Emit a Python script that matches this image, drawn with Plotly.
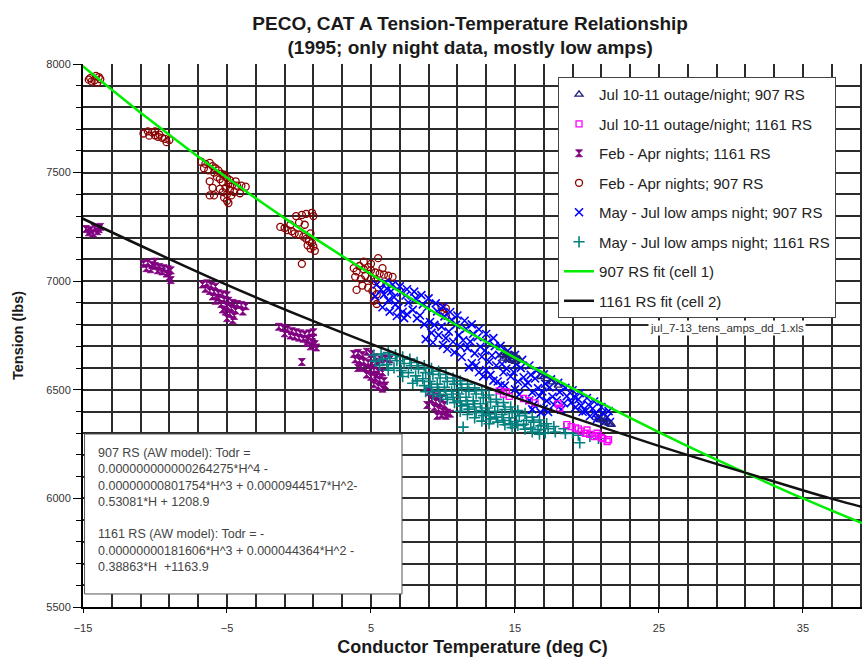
import plotly.graph_objects as go

# ---------------- data ----------------
# Feb - Apr nights; 907 RS
feb907_temp = [-14.5, -14.2, -13.9, -14.0, -14.4, -13.8, -14.1, -14.6,
               -10.8, -10.5, -10.2, -10.0, -9.8, -9.5, -9.3, -9.0, -10.4, -9.7, -9.2, -10.0,
               -6.8, -6.5, -6.2, -6.0, -5.8, -6.6, -6.3, -5.9, -5.6, -5.4, -5.2, -5.7, -5.5, -5.0,
               -4.8, -5.3, -4.9, -4.6, -4.3, -4.0, -3.7, -5.1, -4.8, -5.5, -6.0, -5.3, -5.0, -4.7,
               -5.2, -5.0, -4.9, -4.5, -4.4, -6.2, -6.2, -5.9, -4.1,
               -1.3, -1.0, -0.8, -0.5, -0.3, 0.0, 0.3, 0.5, 0.7, 0.9, 1.0, 0.8, 0.6, 1.1, -0.2, 0.2,
               0.5, 0.9, 1.0, 0.0, 0.4, 0.2, -0.6, 0.8,
               3.8, 4.0, 4.2, 4.5, 4.8, 5.0, 5.3, 5.6, 5.9, 6.2, 6.5, 3.9, 4.3, 4.6, 5.0, 5.3, 5.6,
               4.4, 4.8, 5.1, 5.4, 5.2, 5.4, 4.0, 5.5, 5.0, 4.5, 5.8,
               9.9, 10.2, 10.0, 10.2]
feb907_tension = [7935, 7925, 7940, 7915, 7920, 7930, 7945, 7928,
                  7680, 7690, 7685, 7672, 7665, 7660, 7655, 7650, 7670, 7675, 7640, 7690,
                  7550, 7540, 7545, 7530, 7520, 7520, 7510, 7500, 7510, 7495, 7490, 7480, 7470, 7475,
                  7465, 7455, 7450, 7445, 7440, 7440, 7435, 7430, 7420, 7425, 7430, 7410, 7400, 7395,
                  7385, 7370, 7360, 7410, 7460, 7460, 7395, 7395, 7405,
                  7250, 7245, 7235, 7230, 7220, 7215, 7205, 7195, 7185, 7175, 7160, 7150, 7165, 7140, 7300, 7305,
                  7310, 7315, 7300, 7270, 7260, 7080, 7260, 7220,
                  7060, 7045, 7070, 7055, 7065, 7050, 7040, 7035, 7030, 7025, 7020, 7020, 7010, 7025, 7010, 7000, 6990,
                  6980, 6970, 6955, 6940, 6910, 6895, 6960, 7106, 7080, 7090, 7060,
                  6880, 6875, 6855, 6840]

# Feb - Apr nights; 1161 RS
feb1161_temp = [-14.8, -14.5, -14.2, -13.9, -14.6, -14.0, -13.8, -14.3,
                -10.8, -10.5, -10.2, -10.0, -9.7, -9.4, -9.1, -8.9, -10.6, -10.3, -9.8, -9.5, -9.2, -9.0, -8.9, -10.0,
                -6.7, -6.4, -6.1, -5.8, -6.5, -6.2, -5.9, -5.6, -5.3, -5.0, -5.6, -5.2, -4.9, -4.6, -4.3, -4.0,
                -3.7, -5.4, -5.0, -4.7, -4.4, -5.1, -4.8, -4.5, -5.0, -4.6, -3.9, -5.8, -6.0, -5.3,
                -1.4, -1.1, -0.8, -0.5, -0.2, 0.1, 0.4, 0.7, 1.0, -1.0, -0.6, -0.3, 0.0, 0.3, 0.6, 0.9, 1.1,
                1.2, 0.8, 0.5, 1.0, 0.2,
                3.8, 4.1, 4.4, 4.7, 5.0, 5.3, 3.9, 4.2, 4.5, 4.8, 5.1, 5.4, 5.7, 6.0, 6.3, 4.3, 4.6, 4.9,
                5.2, 5.5, 5.8, 4.7, 5.0, 5.3, 5.6, 5.9, 5.2, 5.5, 5.8, 6.0, 5.4, 4.1,
                9.0, 9.3, 9.6, 9.9, 9.2, 9.5, 9.8, 10.1, 9.4, 9.7, 10.0, 10.3, 10.5, 9.9, 10.2, 9.6, 8.9]
feb1161_tension = [7240, 7235, 7245, 7240, 7225, 7230, 7250, 7220,
                   7080, 7085, 7075, 7070, 7065, 7060, 7055, 7050, 7060, 7055, 7050, 7045, 7035, 7020, 7005, 7090,
                   6985, 6990, 6980, 6975, 6965, 6955, 6950, 6945, 6940, 6935, 6925, 6915, 6910, 6900, 6895, 6890,
                   6885, 6895, 6885, 6875, 6865, 6860, 6850, 6840, 6830, 6820, 6860, 6910, 6930, 6870,
                   6790, 6785, 6780, 6770, 6765, 6760, 6755, 6760, 6765, 6760, 6750, 6745, 6740, 6735, 6730, 6720, 6710,
                   6695, 6700, 6715, 6740, 6628,
                   6665, 6670, 6660, 6675, 6665, 6650, 6640, 6635, 6630, 6625, 6620, 6630, 6640, 6645, 6640, 6605, 6600, 6595,
                   6590, 6585, 6580, 6570, 6560, 6555, 6545, 6540, 6525, 6515, 6505, 6520, 6570, 6600,
                   6490, 6480, 6470, 6460, 6455, 6445, 6440, 6430, 6420, 6410, 6400, 6395, 6390, 6385, 6380, 6380, 6430]

# May - Jul low amps night; 1161 RS
may1161_temp = [5.2, 5.3, 5.7, 5.8, 5.6, 6.2, 6.3, 6.1, 6.2, 6.7, 6.8, 6.6,
                7.2, 7.3, 7.1, 7.2, 7.7, 7.8, 7.6, 7.9, 8.2, 8.3, 8.1, 8.2,
                8.7, 8.8, 8.6, 8.7, 8.8, 9.2, 9.3, 9.1, 9.2, 9.3, 9.7, 9.8, 9.6, 9.7, 9.8,
                10.2, 10.3, 10.1, 10.2, 10.3, 10.7, 10.8, 10.6, 10.7, 10.8,
                11.2, 11.3, 11.1, 11.2, 11.3, 11.2, 11.7, 11.8, 11.6, 11.7, 11.8, 11.7,
                12.2, 12.3, 12.1, 12.2, 12.3, 12.2, 12.7, 12.8, 12.6, 12.7, 12.8, 12.7,
                13.2, 13.3, 13.1, 13.2, 13.3, 13.2, 13.7, 13.8, 13.6, 13.7, 13.8,
                14.2, 14.3, 14.1, 14.2, 14.3, 14.7, 14.8, 14.6, 14.7, 14.8,
                15.2, 15.3, 15.1, 15.2, 15.7, 15.8, 15.6, 15.7, 16.2, 16.3, 16.1, 16.2,
                16.7, 16.8, 16.6, 16.7, 17.2, 17.3, 17.1, 17.7, 17.8, 18.4, 18.5,
                19.0, 19.5, 19.4, 20.2, 20.8, 11.4]
may1161_tension = [6660, 6632, 6665, 6641, 6612, 6671, 6644, 6616, 6590, 6661, 6634, 6601,
                   6652, 6621, 6589, 6561, 6641, 6611, 6579, 6530, 6626, 6596, 6564, 6541,
                   6611, 6579, 6551, 6519, 6491, 6599, 6571, 6539, 6511, 6479, 6586, 6554, 6526, 6494, 6469,
                   6571, 6539, 6511, 6479, 6456, 6554, 6526, 6494, 6466, 6441,
                   6541, 6509, 6481, 6449, 6426, 6401, 6526, 6494, 6466, 6434, 6411, 6386,
                   6509, 6481, 6449, 6421, 6394, 6371, 6496, 6464, 6436, 6404, 6381, 6356,
                   6476, 6444, 6416, 6389, 6366, 6344, 6456, 6424, 6401, 6374, 6351,
                   6441, 6409, 6386, 6359, 6339, 6421, 6394, 6371, 6344, 6326,
                   6404, 6381, 6354, 6336, 6391, 6359, 6341, 6319, 6374, 6351, 6324, 6306,
                   6361, 6334, 6316, 6296, 6344, 6321, 6301, 6331, 6306, 6321, 6299,
                   6301, 6256, 6291, 6286, 6276, 6328]

# May - Jul low amps night; 907 RS
may907_temp = [5.4, 5.7, 6.0, 6.1, 5.9, 6.2, 6.5, 6.4, 6.6, 6.7, 7.0, 7.1, 6.9, 7.2,
               7.5, 7.4, 7.6, 7.5, 8.0, 8.1, 7.9, 8.2, 8.5, 8.6, 8.4, 8.7,
               9.0, 8.9, 9.1, 9.2, 8.8, 9.5, 9.6, 9.4, 9.7, 9.3, 10.0, 10.1, 9.9, 10.2, 10.0,
               10.5, 10.6, 10.4, 10.7, 10.3, 11.0, 10.9, 11.1, 11.2, 10.8, 11.5, 11.6, 11.4, 11.7, 11.3,
               12.0, 12.1, 11.9, 12.2, 12.0, 11.8, 12.5, 12.4, 12.6, 12.7, 12.3, 12.5,
               13.0, 13.1, 12.9, 13.2, 13.0, 12.8, 13.5, 13.6, 13.4, 13.7, 13.3, 13.5,
               14.0, 13.9, 14.1, 14.2, 13.8, 14.0, 14.5, 14.6, 14.4, 14.7, 14.3,
               15.0, 15.1, 14.9, 15.2, 15.0, 15.5, 15.4, 15.6, 15.7, 15.3,
               16.0, 16.1, 15.9, 16.2, 16.0, 16.5, 16.4, 16.6, 16.7, 16.3,
               17.0, 17.1, 16.9, 17.2, 17.0, 17.5, 17.4, 17.6, 17.7, 18.0, 18.1, 17.9, 18.2,
               18.5, 18.6, 18.4, 19.0, 19.1, 18.9, 19.2, 19.5, 19.4, 19.6, 19.7,
               20.0, 20.1, 19.9, 20.2, 20.5, 20.4, 20.6, 20.7, 21.0, 21.1, 20.9, 21.2, 21.5, 21.4, 21.6,
               5.3, 5.8, 6.3, 6.8, 7.3, 16.2, 16.8, 17.3]
may907_tension = [6985, 6962, 6992, 6966, 6938, 6912, 6984, 6953, 6927, 6893, 6976, 6948, 6878, 6858,
                  6963, 6934, 6902, 6848, 6952, 6921, 6868, 6829, 6936, 6893, 6842, 6801,
                  6921, 6879, 6812, 6762, 6733, 6898, 6861, 6799, 6752, 6718, 6882, 6838, 6791, 6738, 6706,
                  6858, 6822, 6768, 6721, 6688, 6842, 6799, 6752, 6698, 6672, 6818, 6781, 6728, 6692, 6651,
                  6801, 6758, 6722, 6668, 6622, 6603, 6779, 6742, 6698, 6652, 6612, 6581,
                  6757, 6718, 6681, 6629, 6591, 6562, 6738, 6701, 6658, 6612, 6569, 6542,
                  6702, 6661, 6619, 6581, 6538, 6521, 6679, 6642, 6598, 6561, 6519,
                  6661, 6618, 6582, 6538, 6502, 6638, 6601, 6558, 6522, 6479,
                  6612, 6569, 6532, 6488, 6451, 6588, 6552, 6508, 6471, 6432,
                  6571, 6528, 6492, 6449, 6412, 6548, 6511, 6468, 6431, 6532, 6489, 6452, 6409,
                  6509, 6471, 6438, 6498, 6468, 6441, 6419, 6484, 6456, 6427, 6399,
                  6462, 6431, 6402, 6378, 6446, 6414, 6389, 6366, 6421, 6394, 6371, 6351, 6402, 6374, 6352,
                  6930, 6880, 6860, 6840, 6830, 6410, 6395, 6398]

# Jul 10-11 outage/night; 1161 RS
jul1161_temp = [13.9, 14.2, 14.6, 15.6, 16.0, 16.4, 18.0, 18.1, 18.6, 18.9, 19.2, 19.6,
                19.9, 20.2, 20.5, 20.8, 21.1, 21.4, 19.4, 20.0, 20.7, 21.0, 21.5, 14.4]
jul1161_tension = [6495, 6480, 6470, 6460, 6450, 6440, 6435, 6415, 6340, 6330, 6325, 6310,
                   6300, 6295, 6285, 6290, 6275, 6262, 6320, 6315, 6300, 6280, 6270, 6490]

# Jul 10-11 outage/night; 907 RS
jul907_temp = [14.1, 14.3, 14.5, 14.7, 14.9, 15.1, 14.2, 14.5, 14.8, 15.0, 15.3, 14.4,
               16.8, 17.2, 17.6, 18.0, 20.8, 21.0, 21.2, 21.5, 21.7, 21.3]
jul907_tension = [6660, 6670, 6665, 6660, 6655, 6650, 6645, 6640, 6635, 6630, 6640, 6655,
                  6560, 6550, 6535, 6520, 6370, 6360, 6350, 6345, 6340, 6365]

# Fit curves
fit907_temp = [-15.2, -10.5, -5.5, -0.1, 5.8, 12.2, 19.2, 26.7, 31.6, 35.0, 38.6, 40.5]
fit907_tension = [8000, 7750, 7500, 7250, 7000, 6750, 6500, 6250, 6100, 6000, 5900, 5850]
fit1161_temp = [-15.4, -5.6, 1.6, 13.5, 24.6, 31.9, 36.9, 39.7, 42.3]
fit1161_tension = [7300, 7000, 6800, 6500, 6250, 6100, 6000, 5950, 5900]

# Text
title_text = "PECO, CAT A Tension-Temperature Relationship<br>(1995; only night data, mostly low amps)"
x_title = "Conductor Temperature (deg C)"
y_title = "Tension (lbs)"
file_note = "jul_7-13_tens_amps_dd_1.xls"
model_lines = [
    "907 RS (AW model): Todr =",
    "0.000000000000264275*H^4 -",
    "0.00000000801754*H^3 + 0.0000944517*H^2-",
    "0.53081*H + 1208.9",
    "",
    "1161 RS (AW model): Todr = -",
    "0.00000000181606*H^3 + 0.000044364*H^2 -",
    "0.38863*H  +1163.9",
]

FONT = "Liberation Sans, Arial, sans-serif"

fig = go.Figure()

def add_pts(x, y, name, symbol, color, size, rank, lw=1.3):
    fig.add_trace(go.Scatter(
        x=x, y=y, mode="markers", name=name, legendgroup=name, legendrank=rank,
        marker=dict(symbol=symbol, color=color, size=size, line=dict(color=color, width=lw)),
    ))

add_pts(feb1161_temp, feb1161_tension, "Feb - Apr nights; 1161 RS", "hourglass", "#800080", 7, 3, 0.8)
add_pts(feb907_temp, feb907_tension, "Feb - Apr nights; 907 RS", "circle-open", "#8B0000", 7, 4)
add_pts(may1161_temp, may1161_tension, "May - Jul low amps night; 1161 RS", "cross-thin-open", "#008080", 8, 6, 1.6)
add_pts(may907_temp, may907_tension, "May - Jul low amps night; 907 RS", "x-thin-open", "#0000FF", 8, 5, 1.6)
add_pts(jul1161_temp, jul1161_tension, "Jul 10-11 outage/night; 1161 RS", "square-open", "#FF00FF", 6, 2)
add_pts(jul907_temp, jul907_tension, "Jul 10-11 outage/night; 907 RS", "triangle-up-open", "#1F1F7A", 7, 1)

fig.add_trace(go.Scatter(x=fit907_temp, y=fit907_tension, mode="lines", name="907 RS fit (cell 1)",
                         legendgroup="g907", legendrank=7, line=dict(color="#00EE00", width=2.5, shape="spline")))
fig.add_trace(go.Scatter(x=fit1161_temp, y=fit1161_tension, mode="lines", name="1161 RS fit (cell 2)",
                         legendgroup="g1161", legendrank=8, line=dict(color="#111111", width=2.5, shape="spline")))

gridc = "#2b2b2b"
fig.update_layout(
    width=862, height=657,
    margin=dict(l=83, r=0, t=64, b=50),
    paper_bgcolor="white", plot_bgcolor="white",
    font=dict(family=FONT, color="#333333"),
    title=dict(text=title_text, x=0.497, xref="paper", xanchor="center", y=0.955, yanchor="top",
               font=dict(family=FONT, size=19, color="#1a1a1a", weight="bold")),
    showlegend=True,
    legend=dict(x=0.6098, y=0.976, xanchor="left", yanchor="top", bgcolor="white",
                bordercolor="#444444", borderwidth=1, font=dict(family=FONT, size=15, color="#222222"),
                tracegroupgap=7, itemwidth=30),
    xaxis=dict(range=[-15, 39.1], tick0=-15, dtick=10, showgrid=True, gridcolor=gridc, gridwidth=2,
               minor=dict(tick0=-15, dtick=2, showgrid=True, gridcolor=gridc, gridwidth=2),
               ticks="outside", ticklen=4, tickcolor="black", showline=True, linecolor="black", linewidth=2,
               tickfont=dict(size=11, color="#333333"), ticklabelstandoff=6, zeroline=False,
               title=dict(text=x_title, font=dict(size=18, color="#1a1a1a", weight="bold"), standoff=8)),
    yaxis=dict(range=[5500, 8000], tick0=5500, dtick=500, showgrid=True, gridcolor=gridc, gridwidth=2,
               minor=dict(dtick=100, showgrid=True, gridcolor=gridc, gridwidth=2, ticks="outside", ticklen=5,
                          tickcolor="black"),
               ticks="outside", ticklen=8, tickcolor="black", showline=True, linecolor="black", linewidth=2,
               tickfont=dict(size=11, color="#333333"), zeroline=False,
               title=dict(text=y_title, font=dict(size=14.5, color="#1a1a1a", weight="bold"), standoff=19)),
)

# White box with model equations
fig.add_shape(type="rect", xref="paper", yref="paper", x0=0.002, x1=0.4095, y0=0.024, y1=0.3186,
              fillcolor="white", line=dict(color="#555555", width=1), layer="above")
fig.add_annotation(xref="paper", yref="paper", x=0.0167, y=0.300, xanchor="left", yanchor="top",
                   align="left", showarrow=False, text="<br>".join(model_lines),
                   font=dict(family=FONT, size=12.5, color="#444444"))
fig.add_annotation(xref="paper", yref="paper", x=0.8267, y=0.5138, xanchor="center", yanchor="middle",
                   showarrow=False, text=file_note, bgcolor="white",
                   font=dict(family=FONT, size=11.5, color="#333333"))

fig.write_html("out.html", config={"displayModeBar": False},
               post_script="document.body.style.margin='0px';document.body.style.overflow='hidden';")
